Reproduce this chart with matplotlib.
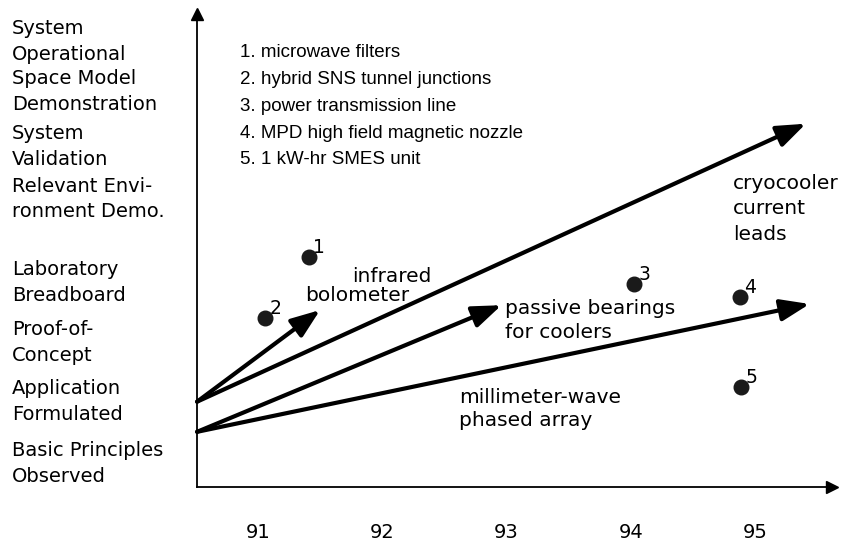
import matplotlib
matplotlib.use("Agg")
import matplotlib.pyplot as plt

# niveis de maturidade (eixo y) e anos (eixo x)
level_labels = [
    "Basic Principles\nObserved",
    "Application\nFormulated",
    "Proof-of-\nConcept",
    "Laboratory\nBreadboard",
    "Relevant Envi-\nronment Demo.",
    "System\nValidation",
    "Space Model\nDemonstration",
    "System\nOperational",
]
level_pos = [1.06, 2.09, 3.07, 4.06, 5.45, 6.32, 7.23, 8.06]
years = [91, 92, 93, 94, 95]

# tecnologias numeradas (pontos)
tech_ids = ["1", "2", "3", "4", "5"]
tech_names = [
    "microwave filters",
    "hybrid SNS tunnel junctions",
    "power transmission line",
    "MPD high field magnetic nozzle",
    "1 kW-hr SMES unit",
]
tech_year = [91.41, 91.06, 94.03, 94.88, 94.89]
tech_level = [4.40, 3.39, 3.95, 3.74, 2.24]

# trajetorias (setas)
path_names = ["infrared bolometer", "cryocooler current leads",
              "passive bearings for coolers", "millimeter-wave phased array"]
path_start_year = [90.51, 90.51, 90.51, 90.51]
path_start_level = [2.00, 2.00, 1.50, 1.50]
path_end_year = [91.50, 95.41, 92.96, 95.44]
path_end_level = [3.52, 6.61, 3.60, 3.62]

plt.rcParams['font.family'] = ['DejaVu Sans']
FS = 14.5

fig = plt.figure(figsize=(8.49, 5.44), dpi=100)
ax = fig.add_axes([0.2320, 0.1048, 0.7479, 0.8695])
ax.set_xlim(90.509, 95.62)
ax.set_ylim(0.585, 8.43)

for s in ["top", "right"]:
    ax.spines[s].set_visible(False)
for s in ["left", "bottom"]:
    ax.spines[s].set_linewidth(1.3)
ax.plot(1, 0, ">k", ms=9, transform=ax.transAxes, clip_on=False)
ax.plot(0, 1, "^k", ms=9, transform=ax.transAxes, clip_on=False)

ax.set_xticks(years, [str(y) for y in years])
ax.tick_params(axis="x", length=0, pad=26, labelsize=14)
ax.set_yticks(level_pos, level_labels)
ax.tick_params(axis="y", length=0, pad=133, labelsize=14)
for t in ax.get_yticklabels():
    t.set_ha("left")
    t.set_multialignment("left")
    t.set_linespacing(1.45)

# setas
for i in range(len(path_names)):
    ax.annotate("", xy=(path_end_year[i], path_end_level[i]),
                xytext=(path_start_year[i], path_start_level[i]),
                arrowprops=dict(arrowstyle="-|>,head_length=0.8,head_width=0.3",
                                mutation_scale=22, lw=3, color="black",
                                shrinkA=0, shrinkB=0))

# rotulos das setas
ax.text(91.757, 3.985, "infrared", fontsize=FS, va="baseline", ha="left")
ax.text(91.378, 3.67, "bolometer", fontsize=FS, va="baseline", ha="left")
ax.text(92.99, 3.34, "passive bearings\nfor coolers", fontsize=FS,
        va="center", ha="left", linespacing=1.32)
ax.text(92.62, 1.88, "millimeter-wave\nphased array", fontsize=FS,
        va="center", ha="left", linespacing=1.3)
ax.text(94.823, 5.20, "cryocooler\ncurrent\nleads", fontsize=FS,
        va="center", ha="left", linespacing=1.42)

# pontos
ax.scatter(tech_year, tech_level, s=110, color="#1a1a1a", zorder=3)
for i, lab in enumerate(tech_ids):
    ax.annotate(lab, (tech_year[i], tech_level[i]), xytext=(3, 0),
                textcoords="offset points", fontsize=13.5, ha="left", va="bottom")

# lista das tecnologias
legend_txt = "\n".join(f"{i}. {n}" for i, n in zip(tech_ids, tech_names))
ax.text(90.855, 6.90, legend_txt, fontsize=13.5, family="Liberation Sans",
        va="center", ha="left", linespacing=1.76)

fig.savefig("out.png", dpi=100)
